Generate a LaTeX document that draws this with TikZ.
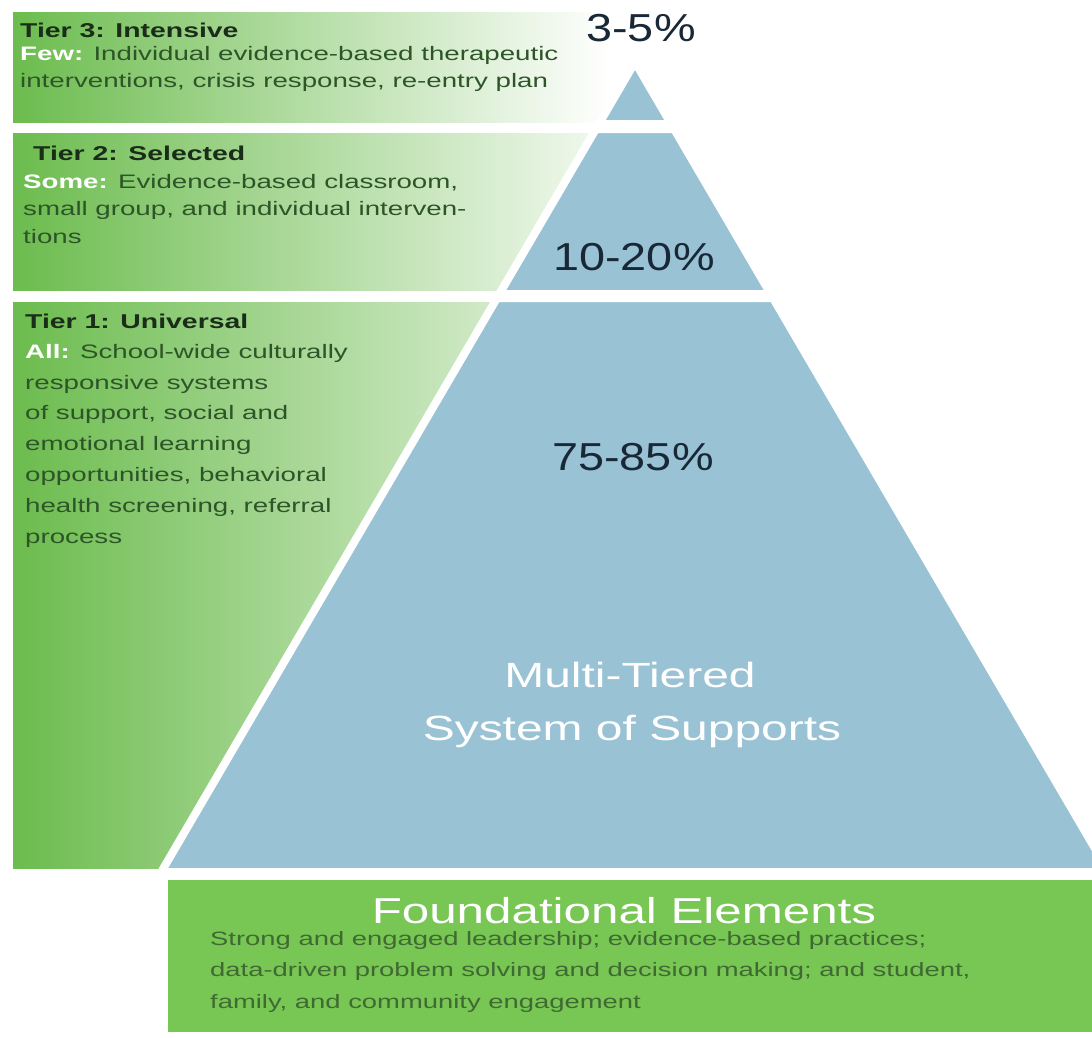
\documentclass[tikz,border=0pt]{standalone}
\usepackage{fontspec}
\usepackage{xcolor}
\newfontfamily\bodyfont[FakeStretch=1.42]{Liberation Sans}
\newfontfamily\titlefont[FakeStretch=1.37]{Liberation Sans}
\newfontfamily\pctfont[FakeStretch=1.2]{Liberation Sans}
\definecolor{tierblue}{RGB}{153,195,212}
\definecolor{tiergreen}{RGB}{108,188,78}
\definecolor{basegreen}{RGB}{120,198,84}
\definecolor{headtext}{RGB}{25,45,25}
\definecolor{bodytext}{RGB}{45,85,40}
\definecolor{pcttext}{RGB}{25,40,55}

\begin{document}
\begin{tikzpicture}[x=1pt,y=-1pt,
    tier/.style={fill=tierblue,draw=white,line width=8pt,line join=miter},
    head/.style={anchor=base west,inner sep=0pt,text=headtext,font=\bodyfont\bfseries\fontsize{20}{24}\selectfont},
    body/.style={anchor=base west,inner sep=0pt,align=left,text=bodytext,font=\bodyfont\fontsize{19.5}{27}\selectfont},
    pct/.style={anchor=base,inner sep=0pt,text=pcttext,font=\pctfont\fontsize{39}{44}\selectfont},
    title/.style={anchor=base,inner sep=0pt,text=white,font=\titlefont\fontsize{35}{42}\selectfont}]

\useasboundingbox (0,0) rectangle (1092,1037);

% green bands
\shade[left color=tiergreen,right color=white] (13,12) rectangle (610,122);
\shade[left color=tiergreen,right color=tiergreen!10] (13,133) rectangle (598,290);
\shade[left color=tiergreen,right color=tiergreen!25] (13,302) rectangle (540,868);

% pyramid
\filldraw[tier] (635,62) -- (671.2,124) -- (598.8,124) -- cycle;
\filldraw[tier] (595.9,129) -- (674.1,129) -- (770.7,294) -- (499.3,294) -- cycle;
\filldraw[tier] (497,298) -- (773,298) -- (1108.8,872) -- (161.2,872) -- cycle;

\fill[basegreen] (168,880) rectangle (1092,1032);

% tier texts (body nodes sit on their last line)
\node[head] (t3) at (20,37) {Tier 3: Intensive};
\node[body] (t3b) at (20,87) {{\color{white}\bfseries Few:} Individual evidence-based therapeutic\\
  interventions, crisis response, re-entry plan};
\node[head] (t2) at (33,160) {Tier 2: Selected};
\node[body,font=\bodyfont\fontsize{19.5}{27.5}\selectfont] (t2b) at (23,243) {{\color{white}\bfseries Some:} Evidence-based classroom,\\
  small group, and individual interven-\\tions};
\node[head] (t1) at (25,328) {Tier 1: Universal};
\node[body,font=\bodyfont\fontsize{19.5}{30.8}\selectfont] (t1b) at (25,543) {{\color{white}\bfseries All:} School-wide culturally\\
  responsive systems\\of support, social and\\emotional learning\\
  opportunities, behavioral\\health screening, referral\\process};

\node[pct] (p3) at (641,41) {3-5\%};
\node[pct] (p2) at (634,270) {10-20\%};
\node[pct] (p1) at (633,470) {75-85\%};

\node[title] (mtss) at (630,687) {Multi-Tiered};
\node[title] (sos) at (632,740) {System of Supports};

\node[title,font=\titlefont\fontsize{36}{42}\selectfont] (found) at (624,923) {Foundational Elements};
\node[body,text=headtext!60!basegreen,font=\bodyfont\fontsize{19.3}{31.5}\selectfont] (foundb) at (210,1008)
  {Strong and engaged leadership; evidence-based practices;\\
  data-driven problem solving and decision making; and student,\\
  family, and community engagement};

\end{tikzpicture}
\end{document}
